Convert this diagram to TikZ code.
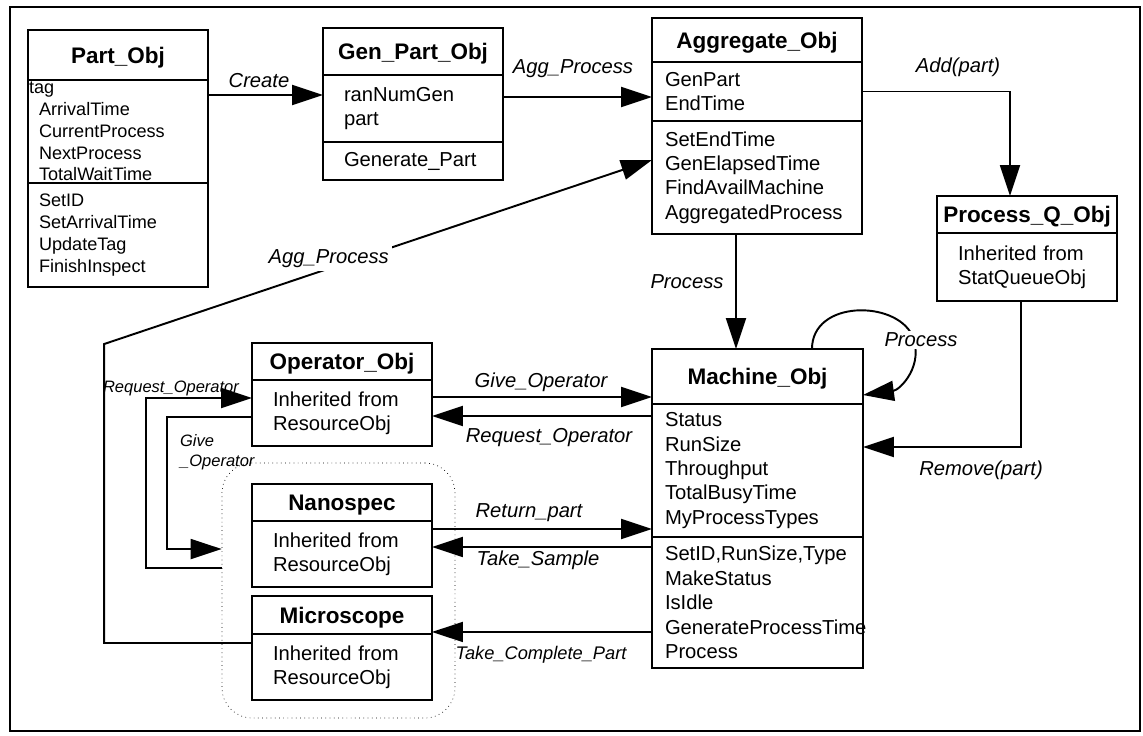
\documentclass[tikz,border=0pt]{standalone}
\usepackage{fontspec}
\setmainfont{Liberation Sans}
\usepackage{tikz}
\usetikzlibrary{arrows.meta}
\usetikzlibrary{positioning}
\hyphenpenalty=10000
\newcommand{\titlefont}{\fontsize{12.8}{15}\selectfont\bfseries}
\newcommand{\bodyfont}{\fontsize{11.5}{13.9}\selectfont}
\newcommand{\partfont}{\fontsize{10.3}{12.4}\selectfont}
\newcommand{\linkfont}{\fontsize{11.5}{13}\selectfont\itshape}
\newcommand{\smallfont}{\fontsize{9.4}{11.4}\selectfont\itshape}
\tikzstyle{every node}+=[inner sep=0pt]
\tikzstyle{objtitle} = [rectangle, draw, font=\titlefont, text depth=0pt, align=center, line width=1.1pt, outer sep=0pt]
\tikzstyle{objbody} = [rectangle, draw, font=\bodyfont, align=left, inner ysep=0pt, line width=1.1pt, outer sep=0pt]
\tikzstyle{line} = [draw, line width=1.1pt, -{Triangle[length=0.62cm,width=0.4cm]}]
\tikzstyle{link} = [font=\linkfont, inner sep=1pt]

\begin{document}
\begin{tikzpicture}[x=0.02cm, y=-0.02cm]
            \useasboundingbox (0,0) rectangle (1143,735);
            \draw [line width=1.5pt] (10,7) rectangle (1140,731);
            % Place objects
            \node [objtitle, minimum width=3.6cm, minimum height=1cm] (partT) at (118,55) {Part\_Obj};
            \node [objbody, font=\partfont, text width=3.16cm, inner xsep=0.22cm, minimum height=2.06cm, below=0pt of partT] (partA) {\hspace*{-0.2cm}tag\\ArrivalTime\\CurrentProcess\\NextProcess\\TotalWaitTime};
            \node [objbody, font=\partfont, text width=3.16cm, inner xsep=0.22cm, minimum height=2.08cm, below=0pt of partA] (partM) {SetID\\SetArrivalTime\\UpdateTag\\FinishInspect};
            \node [objtitle, minimum width=3.6cm, minimum height=0.94cm] (genT) at (413,51.5) {Gen\_Part\_Obj};
            \node [objbody, text width=2.76cm, inner xsep=0.42cm, minimum height=1.34cm, below=0pt of genT] (genA) {ranNumGen\\part};
            \node [objbody, text width=2.76cm, inner xsep=0.42cm, minimum height=0.76cm, below=0pt of genA] (genM) {Generate\_Part};
            \node [objtitle, minimum width=4.2cm, minimum height=0.88cm] (aggT) at (757,40) {Aggregate\_Obj};
            \node [objbody, text width=3.68cm, inner xsep=0.26cm, minimum height=1.18cm, below=0pt of aggT] (aggA) {GenPart\\EndTime};
            \node [objbody, text width=3.68cm, inner xsep=0.26cm, minimum height=2.26cm, below=0pt of aggA] (aggM) {SetEndTime\\GenElapsedTime\\FindAvailMachine\\AggregatedProcess};
            \node [objtitle, minimum width=3.6cm, minimum height=0.74cm] (pqT) at (1027,214.5) {Process\_Q\_Obj};
            \node [objbody, text width=2.76cm, inner xsep=0.42cm, minimum height=1.36cm, below=0pt of pqT] (pqB) {Inherited from\\StatQueueObj};
            \node [objtitle, minimum width=3.6cm, minimum height=0.74cm] (opT) at (342,361.5) {Operator\_Obj};
            \node [objbody, text width=2.76cm, inner xsep=0.42cm, minimum height=1.32cm, below=0pt of opT] (opB) {Inherited from\\ResourceObj};
            \node [draw, dotted, rounded corners=0.6cm, minimum width=4.66cm, minimum height=5.1cm] (grp) at (338.5,590.5) {};
            \node [objtitle, minimum width=3.6cm, minimum height=0.74cm] (nanoT) at (342,502.5) {Nanospec};
            \node [objbody, text width=2.76cm, inner xsep=0.42cm, minimum height=1.32cm, below=0pt of nanoT] (nanoB) {Inherited from\\ResourceObj};
            \node [objtitle, minimum width=3.6cm, minimum height=0.76cm] (micT) at (342,615) {Microscope};
            \node [objbody, text width=2.76cm, inner xsep=0.42cm, minimum height=1.32cm, below=0pt of micT] (micB) {Inherited from\\ResourceObj};
            \node [objtitle, minimum width=4.22cm, minimum height=1.1cm] (machT) at (757.5,376.5) {Machine\_Obj};
            \node [objbody, text width=3.70cm, inner xsep=0.26cm, minimum height=2.66cm, below=0pt of machT] (machA) {Status\\RunSize\\Throughput\\TotalBusyTime\\MyProcessTypes};
            \node [objbody, text width=3.70cm, inner xsep=0.26cm, minimum height=2.62cm, below=0pt of machA] (machM) {SetID,RunSize,Type\\MakeStatus\\IsIdle\\GenerateProcessTime\\Process};
            % Draw edges
            \path [line] ([yshift=0.73cm]partA.east) coordinate (cr) -- (cr -| genA.west);
            \path [line] ([yshift=0.23cm]genA.east) coordinate (ag) -- (ag -| aggA.west);
            \path [line] (aggA.east) -| ([xshift=-0.34cm]pqT.north);
            \path [line] ([xshift=-0.42cm]aggM.south) coordinate (pr) -- (pr |- machT.north);
            \path [line] ([xshift=-0.12cm]pqB.south) |- ([yshift=0.47cm]machA.east);
            \path [line] ([xshift=3.2cm]machT.north west) .. controls (812,300) and (895,300) .. (912,335) .. controls (925,365) and (900,390) .. ([yshift=-0.37cm]machT.east);
            \path [line] ([yshift=0.32cm]opB.east) coordinate (go) -- (go -| machT.west);
            \path [line] ([yshift=1.09cm]machA.west) coordinate (ro) -- (ro -| opB.east);
            \path [line] ([yshift=0.5cm]nanoB.east) coordinate (rp) -- (rp -| machA.west);
            \path [line] ([yshift=1.11cm]machM.west) coordinate (ts) -- (ts -| nanoB.east);
            \path [line] ([yshift=-0.59cm]machM.west) coordinate (tc) -- (tc -| micB.east);
            \path [line] ([yshift=0.45cm]grp.west) -- ++(-1.52cm,0) |- ([yshift=0.3cm]opB.west);
            \path [line] ([yshift=-0.08cm]opB.west) -- ++(-1.7cm,0) |- ([yshift=0.83cm]grp.west);
            \path [line] ([yshift=0.48cm]micB.west) -- ++(-2.96cm,0) -- ++(0,5.98cm) -- node [link, fill=white, pos=0.41, yshift=0.2cm, inner sep=2pt] (aglbl) {Agg\_Process} ([yshift=0.35cm]aggM.west);
            % Edge labels
            \node [link] (crlbl) at (259,81) {Create};
            \node [link] (gplbl) at (573,69) {Agg\_Process};
            \node [link] (addlbl) at (958,67) {Add(part)};
            \node [link] (prlbl) at (687,282) {Process};
            \node [link] (rmlbl) at (981,470) {Remove(part)};
            \node [link, fill=white] (slbl) at (921,340) {Process};
            \node [link] (golbl) at (541,382) {Give\_Operator};
            \node [link] (rolbl) at (549,438) {Request\_Operator};
            \node [link] (rplbl) at (529,513) {Return\_part};
            \node [link] (tslbl) at (538,560) {Take\_Sample};
            \node [link, font=\fontsize{10.4}{12}\selectfont\itshape] (tclbl) at (541,655) {Take\_Complete\_Part};
            \node [link, font=\smallfont] (rqlbl) at (171,388) {Request\_Operator};
            \node [link, font=\smallfont, align=left, anchor=west] (gvlbl) at (178,452) {Give\\\_Operator};
          \end{tikzpicture}
\end{document}
